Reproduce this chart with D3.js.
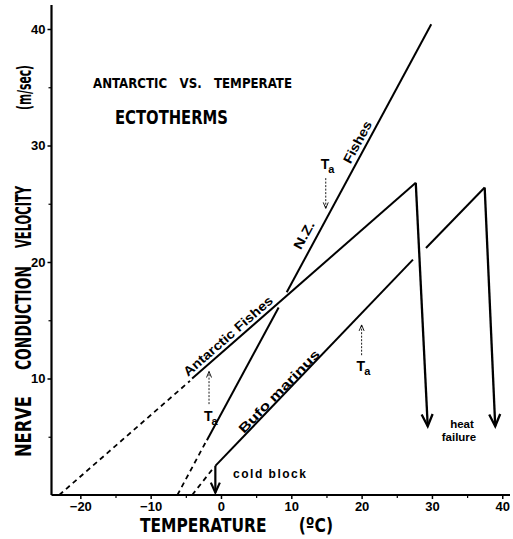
<!DOCTYPE html>
<html><head><meta charset="utf-8">
<script src="https://cdn.jsdelivr.net/npm/d3@7"></script>
<style>body{margin:0;background:#fff} svg{display:block}</style>
</head><body>
<svg width="513" height="539"></svg>
<script>
// ---- data ----
const xTicks = [-20, -10, 0, 10, 20, 30, 40];
const xMinor = [-15, -5, 5, 15, 25, 35];
const yTicks = [10, 20, 30, 40];
const yMinor = [5, 15, 25, 35];
// line segments as [t1, v1, t2, v2] (temperature °C, velocity m/s)
const nzDashed = [[-6.2, 0, -2.2, 4.5]];
const nzSolid = [[-2.0, 4.7, 8.2, 16.1], [9.35, 17.4, 29.9, 40.4]];
const antDashed = [[-23.0, 0, -4.4, 9.8]];
const antSolid = [[-4.1, 10.0, 27.7, 26.8]];
const antHeat = [27.7, 26.8, 29.4, 5.9];
const bufoDashed = [[-4.1, 0, -1.1, 2.3]];
const bufoSolid = [[-0.8, 2.5, 27.3, 20.2], [29.15, 21.2, 37.5, 26.4]];
const bufoHeat = [37.5, 26.4, 39.0, 5.9];
const coldBlock = [-0.8, 2.5, -0.8, 0.2];
// Ta markers: label position and arrow (from v -> to v) at temperature t
const taMarks = [
  {t: 14.9, v: 28.3, from: 27.2, to: 24.6},
  {t: -1.7, v: 6.7, from: 7.8, to: 10.6},
  {t: 20.0, v: 11.0, from: 12.0, to: 14.6}
];
// labels along lines: text, centre (t, v), reference line
const lineLabels = [
  {text: "N.Z.", t: 11.8, v: 22.3, line: [-2.0, 4.7, 29.9, 40.4], len: 30},
  {text: "Fishes", t: 19.4, v: 30.3, line: [-2.0, 4.7, 29.9, 40.4], len: 46},
  {text: "Antarctic Fishes", t: 1.0, v: 13.65, line: [-4.1, 10.0, 27.7, 26.8], len: 114},
  {text: "Bufo marinus", t: 8.25, v: 8.9, line: [-0.8, 2.5, 37.5, 26.4], len: 110}
];

// ---- scales ----
const svg = d3.select("svg");
const x = d3.scaleLinear().domain([-24.1, 41.1]).range([51.5, 510]);
const y = d3.scaleLinear().domain([0, 42.06]).range([495, 5]);

const ink = "#000";
const condensed = "'Liberation Sans Narrow','DejaVu Sans Condensed','Arial Narrow',sans-serif";
const sans = "'Liberation Sans',Arial,Helvetica,sans-serif";

// ---- axes ----
const xAxis = d3.axisBottom(x).tickValues(xTicks).tickSize(4).tickPadding(3)
  .tickFormat(d => (d < 0 ? "\u2212" + Math.abs(d) : d));
const gx = svg.append("g").attr("transform", `translate(0,${y(0)})`).call(xAxis);
gx.select(".domain").attr("stroke-width", 2.2).attr("d", `M${x.range()[0]},0H${x.range()[1]}`);
gx.selectAll(".tick line").attr("stroke-width", 1.5);
gx.selectAll(".tick text").attr("font-family", sans).attr("font-weight", "bold").attr("font-size", 13);
const gxm = svg.append("g").attr("transform", `translate(0,${y(0)})`)
  .call(d3.axisBottom(x).tickValues(xMinor).tickSize(3).tickFormat(""));
gxm.select(".domain").remove();
gxm.selectAll(".tick line").attr("stroke-width", 1.2);

const yAxis = d3.axisLeft(y).tickValues(yTicks).tickSize(4).tickPadding(2);
const gy = svg.append("g").attr("transform", `translate(${x.range()[0]},0)`).call(yAxis);
gy.select(".domain").attr("stroke-width", 2.2).attr("d", `M0,${y.range()[0]}V${y.range()[1]}`);
gy.selectAll(".tick line").attr("stroke-width", 1.5);
gy.selectAll(".tick text").attr("font-family", sans).attr("font-weight", "bold").attr("font-size", 13);
const gym = svg.append("g").attr("transform", `translate(${x.range()[0]},0)`)
  .call(d3.axisLeft(y).tickValues(yMinor).tickSize(3).tickFormat(""));
gym.select(".domain").remove();
gym.selectAll(".tick line").attr("stroke-width", 1.2);

// ---- line segments ----
function seg(g, s, dash, w) {
  g.append("line").attr("x1", x(s[0])).attr("y1", y(s[1])).attr("x2", x(s[2])).attr("y2", y(s[3]))
    .attr("stroke", ink).attr("stroke-width", w || 2).attr("stroke-dasharray", dash || null)
    .attr("stroke-linecap", "butt");
}
const gl = svg.append("g");
nzDashed.forEach(s => seg(gl, s, "5,4", 1.8));
antDashed.forEach(s => seg(gl, s, "5,4", 1.8));
bufoDashed.forEach(s => seg(gl, s, "5,4", 1.8));
nzSolid.forEach(s => seg(gl, s));
antSolid.forEach(s => seg(gl, s));
bufoSolid.forEach(s => seg(gl, s));

// arrows with V heads
function arrow(g, s, w, headLen, headHalf, dash) {
  const x1 = x(s[0]), y1 = y(s[1]), x2 = x(s[2]), y2 = y(s[3]);
  g.append("line").attr("x1", x1).attr("y1", y1).attr("x2", x2).attr("y2", y2)
    .attr("stroke", ink).attr("stroke-width", w).attr("stroke-dasharray", dash || null);
  const a = Math.atan2(y2 - y1, x2 - x1);
  const bx = x2 - headLen * Math.cos(a), by = y2 - headLen * Math.sin(a);
  const px = -Math.sin(a) * headHalf, py = Math.cos(a) * headHalf;
  g.append("path")
    .attr("d", `M${bx + px},${by + py}L${x2},${y2}L${bx - px},${by - py}`)
    .attr("fill", "none").attr("stroke", ink).attr("stroke-width", w).attr("stroke-linejoin", "miter");
}
arrow(gl, antHeat, 2.3, 12, 5.5);
arrow(gl, bufoHeat, 2.3, 12, 5.5);
arrow(gl, coldBlock, 2.2, 10, 4.5);

// Ta markers
taMarks.forEach(m => {
  arrow(gl, [m.t, m.from, m.t, m.to], 0.9, 6, 2.5, "2,1.5");
  const tx = gl.append("text").attr("x", x(m.t) - 5).attr("y", y(m.v) + 4)
    .attr("font-family", sans).attr("font-size", 14).attr("font-weight", "bold").attr("fill", ink);
  tx.append("tspan").text("T");
  tx.append("tspan").attr("font-size", 11).attr("dy", 4).attr("dx", -1).text("a");
});

// labels along lines
lineLabels.forEach(l => {
  const ang = Math.atan2(y(l.line[3]) - y(l.line[1]), x(l.line[2]) - x(l.line[0])) * 180 / Math.PI;
  svg.append("text")
    .attr("transform", `translate(${x(l.t)},${y(l.v)}) rotate(${ang})`)
    .attr("text-anchor", "middle").attr("dy", "0.35em")
    .attr("font-family", sans).attr("font-weight", "bold").attr("font-size", 13)
    .attr("textLength", l.len).attr("lengthAdjust", "spacingAndGlyphs")
    .attr("fill", ink).text(l.text);
});

// annotations
svg.append("text").attr("x", 233).attr("y", 478).attr("font-family", sans).attr("font-size", 12)
  .attr("font-weight", "bold").attr("textLength", 73).attr("lengthAdjust", "spacing").text("cold block");
svg.append("text").attr("x", 462).attr("y", 428).attr("text-anchor", "middle").attr("font-family", sans)
  .attr("font-size", 11.5).attr("font-weight", "bold").text("heat");
svg.append("text").attr("x", 459).attr("y", 441).attr("text-anchor", "middle").attr("font-family", sans)
  .attr("font-size", 11.5).attr("font-weight", "bold").text("failure");

// title
function word(txt, x0, x1, base, size) {
  svg.append("text").attr("x", x0).attr("y", base).attr("font-family", condensed)
    .attr("font-weight", "bold").attr("font-size", size)
    .attr("textLength", x1 - x0).attr("lengthAdjust", "spacingAndGlyphs").text(txt);
}
word("ANTARCTIC\u00A0\u00A0\u00A0VS.\u00A0\u00A0\u00A0TEMPERATE", 93, 292, 88, 14);
word("ECTOTHERMS", 115, 228, 124, 20);

// x-axis title
word("TEMPERATURE\u00A0\u00A0\u00A0\u00A0\u00A0\u00A0(\u00BAC)", 140, 333, 532, 20);

// y-axis title (rotated)
function vword(txt, yBottom, yTop, base, size) {
  svg.append("text").attr("transform", `translate(${base},${yBottom}) rotate(-90)`)
    .attr("font-family", condensed).attr("font-weight", "bold").attr("font-size", size)
    .attr("textLength", yBottom - yTop).attr("lengthAdjust", "spacingAndGlyphs").text(txt);
}
vword("NERVE", 457, 396, 31, 22);
vword("CONDUCTION", 370, 266, 31, 22);
vword("VELOCITY", 248, 186, 31, 22);
vword("(m/sec)", 110, 65, 31, 20);
</script>
</body></html>
